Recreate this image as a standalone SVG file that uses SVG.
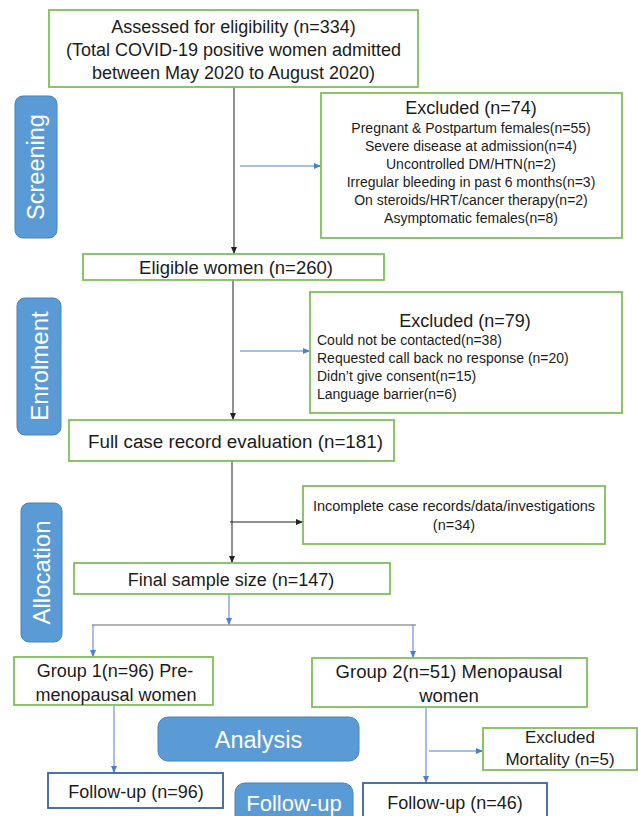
<svg xmlns="http://www.w3.org/2000/svg" width="638" height="816" viewBox="0 0 638 816">
<style>
  .box{fill:#fff;stroke:#80bf58;stroke-width:1.8}
  .bbox{fill:#fff;stroke:#3d5fa6;stroke-width:1.8}
  .lab{fill:#5b9bd5;stroke:#4a82b8;stroke-width:1}
  text{font-family:"Liberation Sans",Arial,sans-serif;fill:#1c1c1c}
  .t18{font-size:18px;text-anchor:middle}
  .t14{font-size:14px;text-anchor:middle}
  .l14{font-size:14px}
  .w{fill:#fff;font-size:24px;text-anchor:middle}
  .k{stroke:#222;stroke-width:1;fill:none}
  .b{stroke:#4a7fd0;stroke-width:1;fill:none}
  .g{stroke:#9a9a9a;stroke-width:1.5;fill:none}
</style>
<defs>
  <marker id="ak" markerUnits="userSpaceOnUse" markerWidth="8" markerHeight="8" refX="7" refY="4" orient="auto">
    <path d="M0,1 L7,4 L0,7 Z" fill="#222"/>
  </marker>
  <marker id="ab" markerUnits="userSpaceOnUse" markerWidth="8" markerHeight="8" refX="7" refY="4" orient="auto">
    <path d="M0,1 L7,4 L0,7 Z" fill="#4a7fd0"/>
  </marker>
</defs>

<g id="connectors">
  <line class="k" x1="234" y1="87" x2="234" y2="254" marker-end="url(#ak)"/>
  <line class="b" x1="240" y1="166" x2="321" y2="166" marker-end="url(#ab)"/>
  <line class="k" x1="233" y1="280" x2="233" y2="420" marker-end="url(#ak)"/>
  <line class="b" x1="240" y1="351" x2="310" y2="351" marker-end="url(#ab)"/>
  <line class="k" x1="232" y1="461" x2="232" y2="563" marker-end="url(#ak)"/>
  <line class="k" x1="230" y1="522" x2="303" y2="522" marker-end="url(#ak)"/>
  <line class="b" x1="229" y1="594" x2="229" y2="625" marker-end="url(#ab)"/>
  <line class="g" x1="92" y1="625" x2="416" y2="625"/>
  <line class="b" x1="93" y1="625" x2="93" y2="657" marker-end="url(#ab)"/>
  <line class="b" x1="413" y1="625" x2="413" y2="658" marker-end="url(#ab)"/>
  <line class="b" x1="114" y1="706" x2="114" y2="773" marker-end="url(#ab)"/>
  <line class="b" x1="426" y1="708" x2="426" y2="783" marker-end="url(#ab)"/>
  <line class="b" x1="429" y1="751" x2="483" y2="751" marker-end="url(#ab)"/>
</g>

<g id="label-screening">
  <rect class="lab" x="15" y="96" width="42" height="142" rx="8"/>
  <text class="w" x="36" y="175" style="font-size:23.5px" transform="rotate(-90 36 167)">Screening</text>
</g>
<g id="label-enrolment">
  <rect class="lab" x="17" y="298" width="44" height="137" rx="8"/>
  <text class="w" x="39" y="374.5" transform="rotate(-90 39 366)">Enrolment</text>
</g>
<g id="label-allocation">
  <rect class="lab" x="21" y="503" width="41" height="139" rx="8"/>
  <text class="w" x="41.5" y="581" transform="rotate(-90 41.5 572.5)">Allocation</text>
</g>
<g id="label-analysis">
  <rect class="lab" x="158" y="717" width="201" height="44" rx="10"/>
  <text class="w" x="258.5" y="747.5" style="font-size:23.5px">Analysis</text>
</g>
<g id="label-followup">
  <rect class="lab" x="235" y="783" width="118" height="50" rx="10"/>
  <text class="w" x="294" y="811" style="font-size:22px">Follow-up</text>
</g>

<g id="assessed">
  <rect class="box" x="49" y="10" width="369" height="77"/>
  <text class="t18" x="233.5" y="32.5">Assessed for eligibility (n=334)</text>
  <text class="t18" x="233.5" y="55.5">(Total COVID-19 positive women admitted</text>
  <text class="t18" x="233.5" y="78.5">between May 2020 to August 2020)</text>
</g>
<g id="excluded74">
  <rect class="box" x="321" y="93" width="301" height="145"/>
  <text class="t18" x="471" y="114">Excluded (n=74)</text>
  <text class="t14" x="471" y="133">Pregnant &amp; Postpartum females(n=55)</text>
  <text class="t14" x="471" y="151">Severe disease at admission(n=4)</text>
  <text class="t14" x="471" y="169">Uncontrolled DM/HTN(n=2)</text>
  <text class="t14" x="471" y="187">Irregular bleeding in past 6 months(n=3)</text>
  <text class="t14" x="471" y="205">On steroids/HRT/cancer therapy(n=2)</text>
  <text class="t14" x="471" y="223">Asymptomatic females(n=8)</text>
</g>
<g id="eligible">
  <rect class="box" x="83" y="254" width="301" height="26"/>
  <text class="t18" x="236" y="273.5" style="font-size:18.5px">Eligible women (n=260)</text>
</g>
<g id="excluded79">
  <rect class="box" x="310" y="292" width="312" height="121"/>
  <text class="t18" x="465" y="327">Excluded (n=79)</text>
  <text class="l14" x="317" y="345">Could not be contacted(n=38)</text>
  <text class="l14" x="317" y="363">Requested call back no response (n=20)</text>
  <text class="l14" x="317" y="381">Didn’t give consent(n=15)</text>
  <text class="l14" x="317" y="399">Language barrier(n=6)</text>
</g>
<g id="fullcase">
  <rect class="box" x="69" y="420" width="325" height="41"/>
  <text class="t18" x="235.5" y="447.5" style="font-size:18.8px">Full case record evaluation (n=181)</text>
</g>
<g id="incomplete">
  <rect class="box" x="303" y="486" width="302" height="58"/>
  <text class="t14" x="454" y="511" style="font-size:14.5px">Incomplete case records/data/investigations</text>
  <text class="t14" x="454" y="530" style="font-size:14.5px">(n=34)</text>
</g>
<g id="final">
  <rect class="box" x="74" y="563" width="316" height="31"/>
  <text class="t18" x="231" y="585.5">Final sample size (n=147)</text>
</g>
<g id="group1">
  <rect class="box" x="14" y="657" width="199" height="48"/>
  <text class="t18" x="115" y="676.5">Group 1(n=96) Pre-</text>
  <text class="t18" x="116" y="700.5">menopausal women</text>
</g>
<g id="group2">
  <rect class="box" x="312" y="658" width="275" height="49"/>
  <text class="t18" x="449" y="677.5" style="font-size:18.5px">Group 2(n=51) Menopausal</text>
  <text class="t18" x="449" y="701.5" style="font-size:18.5px">women</text>
</g>
<g id="mortality">
  <rect class="box" x="483" y="728" width="154" height="42"/>
  <text class="t18" x="560" y="743" style="font-size:17px">Excluded</text>
  <text class="t18" x="560" y="765" style="font-size:17px">Mortality (n=5)</text>
</g>
<g id="followup96">
  <rect class="bbox" x="48" y="773" width="175" height="35"/>
  <text class="t18" x="136" y="797.5">Follow-up (n=96)</text>
</g>
<g id="followup46">
  <rect class="bbox" x="363" y="783" width="184" height="40"/>
  <text class="t18" x="455" y="808.5">Follow-up (n=46)</text>
</g>
</svg>
